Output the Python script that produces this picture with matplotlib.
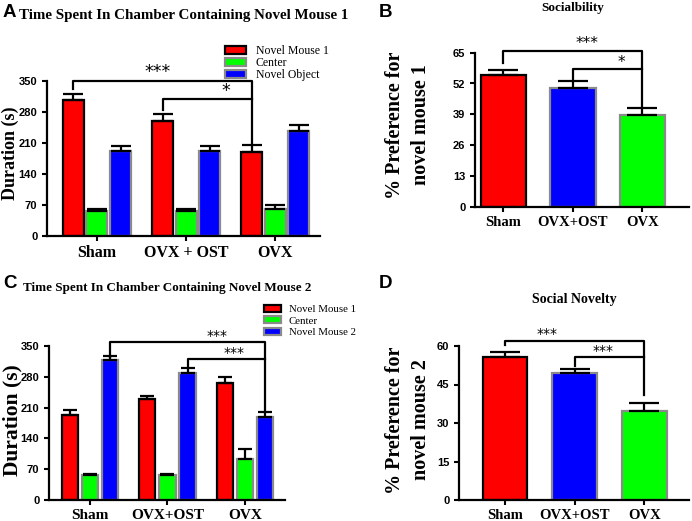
import numpy as np
import matplotlib

matplotlib.use('Agg')

from matplotlib import pyplot as plt

##### Data #####
groups_a = ['Sham', 'OVX + OST', 'OVX']
groups_c = ['Sham', 'OVX+OST', 'OVX']
groups_bd = ['Sham', 'OVX+OST', 'OVX']

# panel A : time in chamber with novel mouse 1
a_mouse1 = [307, 260, 190]
a_mouse1_err = [13, 15, 15]
a_center = [57, 57, 61]
a_center_err = [3, 3, 8]
a_object = [192, 192, 237]
a_object_err = [11, 11, 14]

# panel B : sociability
b_pref = [55.5, 50.3, 38.7]
b_pref_err = [2.0, 2.7, 2.8]

# panel C : time in chamber with novel mouse 2
c_mouse1 = [193, 229, 265]
c_mouse1_err = [11, 8, 14]
c_center = [57, 57, 93]
c_center_err = [3, 3, 24]
c_mouse2 = [318, 288, 188]
c_mouse2_err = [9, 13, 12]

# panel D : social novelty
d_pref = [55.8, 49.4, 34.8]
d_pref_err = [1.7, 1.5, 2.9]

RED = '#FF0000'
GREEN = '#00FF00'
BLUE = '#0000FF'
GREY = '#8a8a8a'
SERIF = 'Liberation Serif'
SANS = 'Liberation Sans'

fig = plt.figure(figsize=(6.92, 5.21), dpi=100)
W, H = 692.0, 521.0


def px_axes(left, top, right, bottom):
    return fig.add_axes([left / W, 1 - bottom / H, (right - left) / W, (bottom - top) / H])


def style(ax, ylim, yticks, xlabels, xsize, ticksize=8):
    for s in ['top', 'right']:
        ax.spines[s].set_visible(False)
    for s in ['left', 'bottom']:
        ax.spines[s].set_linewidth(1.6)
    ax.set_ylim(*ylim)
    ax.set_yticks(yticks)
    ax.set_xticks(range(len(xlabels)))
    ax.set_xticklabels(xlabels, fontfamily=SERIF, fontweight='bold', fontsize=xsize)
    ax.tick_params(axis='both', width=1.5, length=3.5, direction='out')
    ax.tick_params(axis='x', pad=3)
    for lab in ax.get_yticklabels():
        lab.set_fontfamily(SANS)
        lab.set_fontweight('bold')
        lab.set_fontsize(ticksize)


def bars(ax, x, vals, errs, width, color, edge, cap):
    b = ax.bar(x, vals, width, color=color, edgecolor=edge, linewidth=1.6, zorder=2)
    ax.errorbar(x, vals, yerr=[np.zeros(len(errs)), errs], fmt='none', ecolor='black',
                elinewidth=1.6, capsize=cap, capthick=1.6, zorder=3)
    return b


def bracket(ax, x1, x2, y, y1, y2, star, sx, sy, ssize):
    ax.plot([x1, x1, x2, x2], [y1, y, y, y2], color='black', lw=1.6, clip_on=False, zorder=4)
    ax.text(sx, sy, star, ha='center', va='bottom', fontsize=ssize, clip_on=False)


##### Panel A #####
ax = px_axes(47, 81, 320, 236)
x = np.arange(3)
off, wid = 0.264, 0.235
h1 = bars(ax, x - off, a_mouse1, a_mouse1_err, wid, RED, 'black', 7)
h2 = bars(ax, x, a_center, a_center_err, wid, GREEN, GREY, 7)
h3 = bars(ax, x + off, a_object, a_object_err, wid, BLUE, GREY, 7)
ax.set_xlim(-0.56, 2.5)
style(ax, (0, 350), [0, 70, 140, 210, 280, 350], groups_a, 11.5)
bracket(ax, -off, 2 - off, 350, 332, 210, '***', 0.685, 349, 12.5)
bracket(ax, 1 - off, 2 - off, 309, 285, 309, '*', 1.45, 308, 12.5)
ax.legend([h1, h2, h3], ['Novel Mouse 1', 'Center', 'Novel Object'], loc='upper left',
          bbox_to_anchor=(225 / W, 1 - 45 / H), bbox_transform=fig.transFigure,
          frameon=False, prop={'family': SERIF, 'size': 8.5}, handlelength=1.8,
          handleheight=0.6, handletextpad=0.8, labelspacing=0.0, borderpad=0, borderaxespad=0)
fig.text(19 / W, 1 - 19 / H, 'Time Spent In Chamber Containing Novel Mouse 1',
         fontfamily=SERIF, fontweight='bold', fontsize=10.8, ha='left', va='baseline')
fig.text(10.5 / W, 1 - 153 / H, 'Duration (s)', rotation=90, ha='center', va='center',
         fontfamily=SERIF, fontweight='bold', fontsize=13)
fig.text(3 / W, 1 - 17 / H, 'A', fontfamily=SANS, fontweight='bold', fontsize=13.5,
         ha='left', va='baseline')

##### Panel B #####
ax = px_axes(475, 52.7, 689, 206.7)
x = np.arange(3)
for i, (c, e) in enumerate([(RED, 'black'), (BLUE, GREY), (GREEN, GREY)]):
    bars(ax, [x[i]], [b_pref[i]], [b_pref_err[i]], 0.65, c, e, 11)
ax.set_xlim(-0.41, 2.67)
style(ax, (0, 65), [0, 13, 26, 39, 52, 65], groups_bd, 10.5)
bracket(ax, 0, 2, 65.8, 60.8, 42, '***', 1.2, 65.6, 11)
bracket(ax, 1, 2, 58.1, 53.5, 58.1, '*', 1.69, 57.9, 11)
fig.text(573 / W, 1 - 8 / H, 'Socialbility', ha='center', va='center',
         fontfamily=SERIF, fontweight='bold', fontsize=9.5)
fig.text(408 / W, 1 - 125 / H, '% Preference for\nnovel mouse 1', rotation=90,
         ha='center', va='center', multialignment='center', linespacing=1.35,
         fontfamily=SERIF, fontweight='bold', fontsize=14.5)
fig.text(379 / W, 1 - 17 / H, 'B', fontfamily=SANS, fontweight='bold', fontsize=13.5,
         ha='left', va='baseline')

##### Panel C #####
ax = px_axes(49, 346, 285, 500)
x = np.arange(3)
off, wid = 0.26, 0.21
h1 = bars(ax, x - off, c_mouse1, c_mouse1_err, wid, RED, 'black', 5)
h2 = bars(ax, x, c_center, c_center_err, wid, GREEN, GREY, 5)
h3 = bars(ax, x + off, c_mouse2, c_mouse2_err, wid, BLUE, GREY, 5)
ax.set_xlim(-0.53, 2.52)
style(ax, (0, 350), [0, 70, 140, 210, 280, 350], groups_c, 11)
bracket(ax, off, 2 + off, 358, 326, 204, '***', 1.64, 357, 10)
bracket(ax, 1 + off, 2 + off, 320, 304.5, 320, '***', 1.86, 319, 10)
ax.legend([h1, h2, h3], ['Novel Mouse 1', 'Center', 'Novel Mouse 2'], loc='upper left',
          bbox_to_anchor=(264 / W, 1 - 305 / H), bbox_transform=fig.transFigure,
          frameon=False, prop={'family': SERIF, 'size': 7.8}, handlelength=1.6,
          handleheight=0.6, handletextpad=0.7, labelspacing=0.2, borderpad=0, borderaxespad=0)
fig.text(23 / W, 1 - 291 / H, 'Time Spent In Chamber Containing Novel Mouse 2',
         fontfamily=SERIF, fontweight='bold', fontsize=9.45, ha='left', va='baseline')
fig.text(12 / W, 1 - 420 / H, 'Duration (s)', rotation=90, ha='center', va='center',
         fontfamily=SERIF, fontweight='bold', fontsize=15.5)
fig.text(3 / W, 1 - 288 / H, 'C', fontfamily=SANS, fontweight='bold', fontsize=13.5,
         ha='left', va='baseline')

##### Panel D #####
ax = px_axes(459, 346, 689, 500)
x = np.arange(3)
for i, (c, e) in enumerate([(RED, 'black'), (BLUE, GREY), (GREEN, GREY)]):
    bars(ax, [x[i]], [d_pref[i]], [d_pref_err[i]], 0.64, c, e, 11)
ax.set_xlim(-0.66, 2.64)
style(ax, (0, 60), [0, 15, 30, 45, 60], groups_bd, 10.5)
bracket(ax, 0, 2, 62.1, 60.4, 40.9, '***', 0.61, 61.9, 10)
bracket(ax, 1, 2, 55.6, 52.2, 55.6, '***', 1.41, 55.4, 10)
fig.text(574 / W, 1 - 303 / H, 'Social Novelty', ha='center', va='baseline',
         fontfamily=SERIF, fontweight='bold', fontsize=10)
fig.text(408 / W, 1 - 420 / H, '% Preference for\nnovel mouse 2', rotation=90,
         ha='center', va='center', multialignment='center', linespacing=1.35,
         fontfamily=SERIF, fontweight='bold', fontsize=14.5)
fig.text(379 / W, 1 - 288 / H, 'D', fontfamily=SANS, fontweight='bold', fontsize=13.5,
         ha='left', va='baseline')

plt.savefig('out.png', dpi=100)
